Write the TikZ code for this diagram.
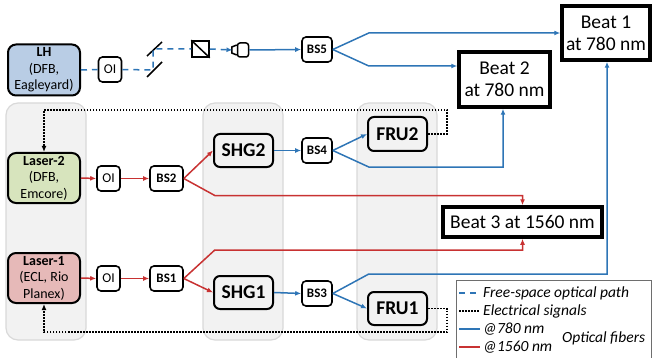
\documentclass[tikz,border=0pt]{standalone}
\usepackage{fontspec}
\setmainfont{Carlito}
\usetikzlibrary{arrows.meta}
\definecolor{fiberblue}{RGB}{46,117,182}
\definecolor{fiberred}{RGB}{200,50,50}
\definecolor{lhfill}{RGB}{185,205,229}
\definecolor{lasertwofill}{RGB}{215,228,189}
\definecolor{laseronefill}{RGB}{230,185,184}
\definecolor{zonefill}{RGB}{242,242,242}
\definecolor{zoneline}{RGB}{217,217,217}
\definecolor{legline}{RGB}{110,110,110}
\tikzset{
	box/.style={draw=black, line width=1.6pt, rounded corners=4pt, inner sep=0pt, align=center},
	bsbox/.style={box, minimum width=30pt, minimum height=25pt, font=\fontsize{13}{15}\selectfont\bfseries},
	oibox/.style={box, minimum width=23pt, minimum height=25pt, font=\fontsize{13.5}{15}\selectfont},
	srcbox/.style={box, line width=2pt, rounded corners=8pt, minimum width=72pt, minimum height=51pt, font=\fontsize{14}{16.5}\selectfont},
	modbox/.style={box, line width=2pt, rounded corners=6pt, minimum width=59pt, minimum height=33pt, font=\fontsize{19.5}{22}\selectfont\bfseries},
	beatbox/.style={draw=black, line width=3.5pt, inner sep=0pt, align=center, font=\fontsize{19.5}{22}\selectfont},
	zone/.style={draw=zoneline, fill=zonefill, line width=1.2pt, rounded corners=12pt},
	free/.style={draw=fiberblue, line width=1.5pt, dash pattern=on 6pt off 5pt},
	fib780/.style={draw=fiberblue, line width=1.5pt},
	fib1560/.style={draw=fiberred, line width=1.5pt},
	elec/.style={draw=black, line width=1.5pt, dash pattern=on 1.5pt off 1.5pt},
	tip/.style={-{Latex[length=6pt,width=5pt]}},
	legtext/.style={anchor=west, inner sep=0pt, font=\fontsize{15.5}{17}\selectfont\itshape}
}
\begin{document}
\begin{tikzpicture}[x=1pt, y=-1pt]
	\useasboundingbox (0,0) rectangle (652,358);
	\draw[zone] (6,103) rectangle (86,340);
	\draw[zone] (203,103) rectangle (283,340);
	\draw[zone] (357,103) rectangle (437,340);

	\node[srcbox, fill=lhfill] (LH) at (44,70) {\textbf{LH}\\(DFB,\\Eagleyard)};
	\node[oibox] (OI0) at (110,69.5) {OI};
	\coordinate (m1) at (153,70);
	\coordinate (m2) at (153,49);
	\node[draw=black, line width=1.5pt, minimum width=17pt, minimum height=16pt, inner sep=0pt] (pol) at (200.5,49) {};
	\node[draw=black, line width=1.5pt, rounded corners=2.5pt, minimum width=11pt, minimum height=14pt, inner sep=0pt] (cpl) at (243,50) {};
	\coordinate (cplin) at (232.5,50);
	\node[bsbox] (BS5) at (317,49.5) {BS5};
	\node[beatbox, minimum width=88pt, minimum height=54pt] (Beat1) at (606,33) {Beat 1\\at 780 nm};
	\node[beatbox, minimum width=91pt, minimum height=55pt] (Beat2) at (504.5,79.5) {Beat 2\\at 780 nm};

	\node[srcbox, fill=lasertwofill, minimum height=50pt] (Laser2) at (44,178) {\textbf{Laser-2}\\(DFB,\\Emcore)};
	\node[oibox] (OI2) at (108.5,178.5) {OI};
	\node[bsbox, minimum width=33pt] (BS2) at (166.5,178.5) {BS2};
	\node[modbox] (SHG2) at (243.5,150.5) {SHG2};
	\node[bsbox] (BS4) at (317,150.5) {BS4};
	\node[modbox, minimum height=34pt] (FRU2) at (397.5,134) {FRU2};
	\node[beatbox, minimum width=159pt, minimum height=30pt] (Beat3) at (522.5,222) {Beat 3 at 1560 nm};

	\node[srcbox, fill=laseronefill, minimum height=50pt] (Laser1) at (44,278) {\textbf{Laser-1}\\(ECL, Rio\\Planex)};
	\node[oibox] (OI1) at (108.5,278.5) {OI};
	\node[bsbox, minimum width=33pt] (BS1) at (166.5,278.5) {BS1};
	\node[modbox] (SHG1) at (243.5,292.5) {SHG1};
	\node[bsbox] (BS3) at (317,293.5) {BS3};
	\node[modbox] (FRU1) at (397.5,308.5) {FRU1};

	\draw[line width=1.5pt] ([shift={(-6,7)}]m1) -- ([shift={(9,-8)}]m1);
	\draw[line width=1.5pt] ([shift={(-6,7)}]m2) -- ([shift={(9,-7)}]m2);
	\draw[line width=1.5pt] (pol.north west) -- (pol.south east);
	\draw[line width=1.5pt] (cpl.west) ++(0,-5) -- ++(-5,2) -- ++(0,6) -- ++(5,2);
	\draw[free] (LH.east) -- (OI0.west);
	\draw[free] (OI0.east) -- (m1) -- (m2) -- (pol.west);
	\draw[free, tip] (pol.east) -- (cplin);
	\draw[fib780, tip] (cpl.east) -- (BS5.west);
	\draw[fib780, tip] (BS5.east) -- ++(36,-16.5) -- (Beat1.west);
	\draw[fib780, tip] (BS5.east) -- ++(36,16.5) coordinate (b5) -- (b5 -| Beat2.west);

	\draw[fib1560, tip] (Laser2.east) -- (OI2.west);
	\draw[fib1560, tip] (OI2.east) -- (BS2.west);
	\draw[fib1560, tip] (BS2.east) -- (SHG2.west);
	\draw[fib1560, tip] (BS2.east) -- ++(31,17) -| (Beat3.north);
	\draw[fib780, tip] (SHG2.east) -- (BS4.west);
	\draw[fib780, tip] (BS4.east) -- (FRU2.west);
	\draw[fib780, tip] (BS4.east) -- ++(36,16.5) -| ([xshift=-1.5pt]Beat2.south);

	\draw[fib1560, tip] (Laser1.east) -- (OI1.west);
	\draw[fib1560, tip] (OI1.east) -- (BS1.west);
	\draw[fib1560, tip] (BS1.east) -- (SHG1.west);
	\draw[fib1560, tip] (BS1.east) -- ++(31,-28.5) -| (Beat3.south);
	\draw[fib780, tip] (SHG1.east) -- (BS3.west);
	\draw[fib780, tip] (BS3.east) -- (FRU1.west);
	\draw[fib780, tip] (BS3.east) -- ++(36,-19.5) -| ([xshift=1pt]Beat1.south);

	\coordinate (el2) at (447,110);
	\coordinate (el1) at (447,332);
	\draw[elec, tip] (FRU2.east) -| (el2) -| (Laser2.north);
	\draw[elec, tip] (FRU1.east) -| (el1) -| (Laser1.south);

	\draw[draw=legline, line width=1pt] (456,280) rectangle (651,362);
	\draw[free] (459,293) -- (480,293);
	\node[legtext] (legfree) at (483,293) {Free-space optical path};
	\draw[elec] (459,311) -- (480,311);
	\node[legtext] (legelec) at (483,311) {Electrical signals};
	\draw[fib780] (459,329) -- (480,329);
	\node[legtext] (leg780) at (483,329) {@780 nm};
	\draw[fib1560] (459,347) -- (480,347);
	\node[legtext] (leg1560) at (483,347) {@1560 nm};
	\node[legtext] (legfib) at (562,338) {Optical fibers};
\end{tikzpicture}
\end{document}
